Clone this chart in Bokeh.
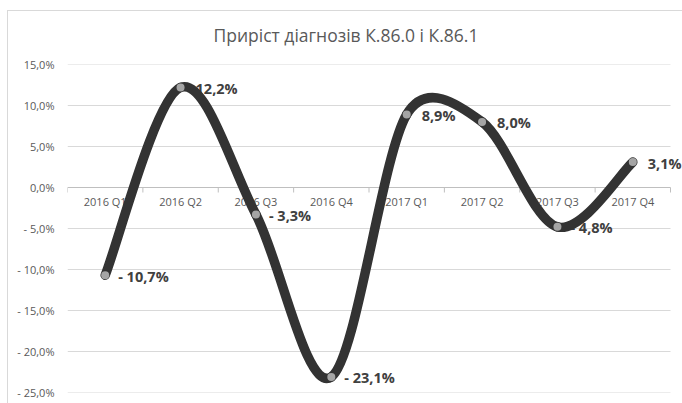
from bokeh.plotting import figure
from bokeh.models import Range1d, FixedTicker, CustomJSTickFormatter, ColumnDataSource
from bokeh.core.properties import value
from bokeh.embed import file_html
from bokeh.resources import INLINE
import math

categories = ["2016 Q1", "2016 Q2", "2016 Q3", "2016 Q4", "2017 Q1", "2017 Q2", "2017 Q3", "2017 Q4"]
values = [-10.7, 12.2, -3.3, -23.1, 8.9, 8.0, -4.8, 3.1]
y_ticks = [-25, -20, -15, -10, -5, 0, 5, 10, 15]
title_text = "Приріст діагнозів К.86.0 і К.86.1"

W, H = 682, 403
BL, BR, BT, BB = 67, 0, 64, 11
frame_w = W - BL - BR
frame_h = H - BT - BB
cat_w = 603 / len(categories)          # pixel width of one category slot
x_lo = -0.5
x_hi = x_lo + frame_w / cat_w
y_lo, y_hi = -25, 15
sx = cat_w
sy = frame_h / (y_hi - y_lo)

p = figure(width=W, height=H, output_backend="svg", toolbar_location=None,
           x_range=Range1d(x_lo, x_hi), y_range=Range1d(y_lo, y_hi),
           x_axis_location=None, min_border_left=BL, min_border_right=BR,
           min_border_top=BT, min_border_bottom=BB, title=title_text)
# chart-area border (top and left edges visible in the crop)
p.styles = {
    "background": ("linear-gradient(#d9d9d9, #d9d9d9) 7px 10px / 1px 100% no-repeat, "
                   "linear-gradient(#d9d9d9, #d9d9d9) 7px 10px / 100% 1px no-repeat, white"),
}
p.outline_line_color = None
p.background_fill_color = "white"
p.border_fill_color = None

p.title.align = "left"
p.title.offset = 146
p.title.text_font = "Open Sans"
p.title.text_font_size = "17.5px"
p.title.text_font_style = "normal"
p.title.text_color = "#595959"
p.title.standoff = 35

yax = p.yaxis[0]
yax.ticker = FixedTicker(ticks=y_ticks)
yax.formatter = CustomJSTickFormatter(code="""
const v = Math.abs(tick).toFixed(1).replace('.', ',') + '%';
return tick < 0 ? '- ' + v : v;
""")
yax.axis_line_color = None
yax.major_tick_line_color = None
yax.minor_tick_line_color = None
yax.major_label_standoff = 7
yax.major_label_text_font = "Open Sans"
yax.major_label_text_font_size = "11px"
yax.major_label_text_color = "#595959"

p.xgrid.visible = False
p.ygrid.visible = False

n_cat = len(categories)
x_end = n_cat - 0.5
# horizontal gridlines over the category span only
grid_y = [t for t in y_ticks if t != 0]
p.segment(x0=[x_lo] * len(grid_y), y0=grid_y, x1=[x_end] * len(grid_y), y1=grid_y,
          line_color="#d9d9d9", line_width=1)
# zero (category axis) line
p.segment(x0=[x_lo], y0=[0], x1=[x_end], y1=[0], line_color="#bfbfbf", line_width=1)

# tick marks at category boundaries
bounds = [i - 0.5 for i in range(n_cat + 1)]
p.segment(x0=bounds, y0=[0] * len(bounds), x1=bounds, y1=[-5 / sy] * len(bounds),
          line_color="#bfbfbf", line_width=1)

# category labels on the zero line
idx = list(range(n_cat))
p.text(x=idx, y=[0] * len(idx), text=categories, y_offset=14,
       text_align="center", text_baseline="middle",
       text_font=value("Open Sans"), text_font_size="11px", text_color="#595959")

# data labels
def fmt(v):
    s = f"{abs(v):.1f}".replace(".", ",") + "%"
    return "- " + s if v < 0 else s

labels = [fmt(v) for v in values]
offs = [13 if v < 0 else 15 for v in values]
lsrc = ColumnDataSource(dict(x=idx, y=values, t=labels, xo=offs))
p.text(x="x", y="y", text="t", x_offset="xo", y_offset=1, source=lsrc,
       text_align="left", text_baseline="middle",
       text_font=value("Open Sans"), text_font_size="14.5px", text_font_style="bold",
       text_color="#404040")

# Excel-like smoothed line (bezier segments computed in screen space)
P = [(i * sx, v * sy) for i, v in zip(idx, values)]
n = len(P)
X0, Y0, X1, Y1, CX0, CY0, CX1, CY1 = [], [], [], [], [], [], [], []
def dist(a, b):
    return math.hypot(a[0] - b[0], a[1] - b[1])
for i in range(n - 1):
    p0 = P[i - 1] if i > 0 else P[i]
    p1 = P[i]
    p2 = P[i + 1]
    p3 = P[i + 2] if i + 2 < n else P[i + 1]
    d12 = dist(p1, p2)
    d02 = dist(p0, p2)
    d13 = dist(p1, p3)
    f1 = 1 / 6
    if d02 / 6 >= d12 / 2 and d02 > 0:
        f1 = d12 / (2 * d02)
    f2 = 1 / 6
    if d13 / 6 >= d12 / 2 and d13 > 0:
        f2 = d12 / (2 * d13)
    c1 = (p1[0] + f1 * (p2[0] - p0[0]), p1[1] + f1 * (p2[1] - p0[1]))
    c2 = (p2[0] - f2 * (p3[0] - p1[0]), p2[1] - f2 * (p3[1] - p1[1]))
    X0.append(p1[0] / sx); Y0.append(p1[1] / sy)
    X1.append(p2[0] / sx); Y1.append(p2[1] / sy)
    CX0.append(c1[0] / sx); CY0.append(c1[1] / sy)
    CX1.append(c2[0] / sx); CY1.append(c2[1] / sy)

p.bezier(x0=X0, y0=Y0, x1=X1, y1=Y1, cx0=CX0, cy0=CY0, cx1=CX1, cy1=CY1,
         line_color="#333333", line_width=9.5, line_cap="round")

p.scatter(x=idx, y=values, size=8, fill_color="#a5a5a5", line_color=None)

open("out.html", "w").write(file_html(p, INLINE))
